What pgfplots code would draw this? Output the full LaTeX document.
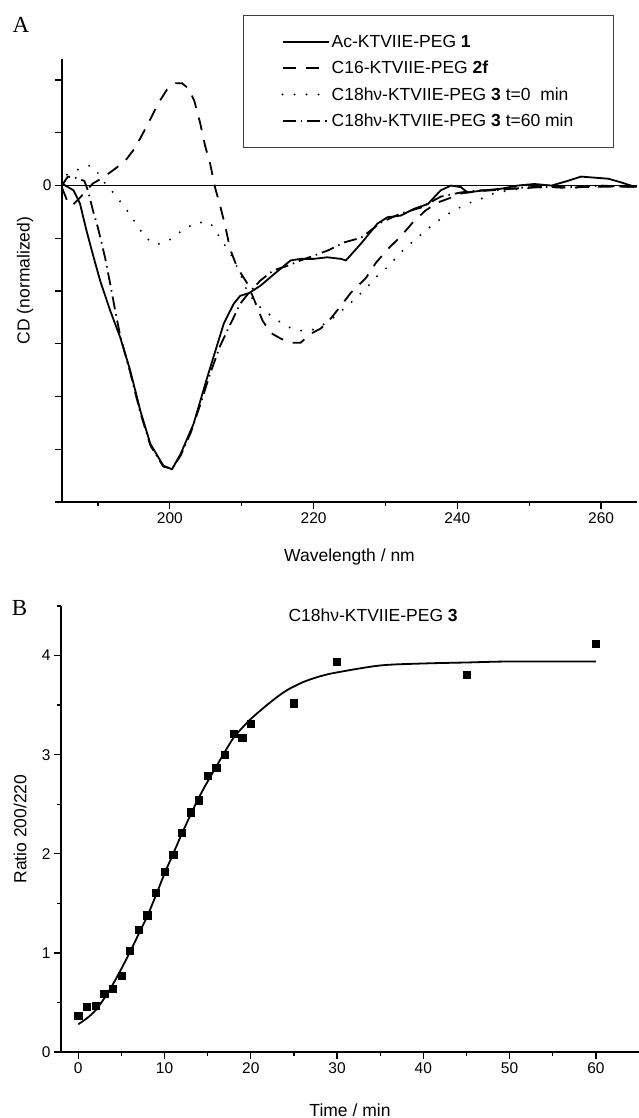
\documentclass[border=0pt]{standalone}
\usepackage{fontspec}
\setmainfont{Liberation Sans}
\newfontfamily\serifA{Liberation Serif}
\usepackage{pgfplots}
\pgfplotsset{compat=1.18}
\newcommand\lblfont{\fontsize{17.5}{20}\selectfont}
\pgfplotsset{
  panel/.style={scale only axis, anchor=south west,
    axis x line=bottom, axis y line=left,
    axis line style={-, line width=1.6pt},
    tick align=outside, major tick length=7pt, minor tick length=4pt,
    every tick/.style={black, line width=1.3pt},
    tick label style={font=\fontsize{15.5}{18}\selectfont},
    /pgf/number format/assume math mode=true},
}
\begin{document}
\begin{tikzpicture}[x=1pt,y=1pt]
\useasboundingbox (0,0) rectangle (639,1118);
\node[font=\serifA\fontsize{23}{26}\selectfont] at (21,1093.5) {A};
\node[font=\serifA\fontsize{23}{26}\selectfont] at (19.5,510) {B};

% panel A: CD spectra
\begin{axis}[panel, at={(62pt,616pt)}, width=575pt, height=443pt,
  xmin=185, xmax=265, ymin=-6, ymax=2.4,
  xtick={200,220,240,260}, minor xtick={190,210,230,250},
  ytick={-6,-5,-4,-3,-2,-1,0,1,2}, yticklabels={{},{},{},{},{},{},0,{},{}},
  xlabel={Wavelength / nm}, ylabel={CD (normalized)},
  every axis x label/.style={at={(rel axis cs:0.5,0)}, yshift=-55pt, anchor=center, font=\lblfont},
  every axis y label/.style={at={(rel axis cs:0,0.5)}, xshift=-37pt, rotate=90, anchor=center, font=\lblfont},
  legend style={at={(rel axis cs:0.3148,1.0993)}, anchor=north west,
    draw=black!75, line width=0.9pt, inner xsep=38pt, inner ysep=18pt,
    font=\lblfont, row sep=8pt},
  legend cell align=left,
  legend image code/.code={\draw[#1] (0pt,0pt) -- (46pt,0pt);},
]
\addplot[black, line width=1.8pt, line join=round] coordinates {
(185.0,0) (185.1,0.03) (186.6,-0.09) (187.5,-0.34) (188.4,-0.85) (189.4,-1.36)
(190.3,-1.80) (191.7,-2.37) (193.1,-2.88) (194.5,-3.51) (195.9,-4.27) (197.3,-4.90)
(199.1,-5.31) (200.3,-5.38) (201.5,-5.09) (203.3,-4.52) (205.2,-3.64) (207.5,-2.62)
(208.9,-2.24) (209.8,-2.09) (211.0,-2.04) (212.6,-1.90) (214.5,-1.68) (216.8,-1.42)
(218.2,-1.39) (220.0,-1.39) (221.9,-1.36) (223.8,-1.39) (224.5,-1.42) (226.6,-1.10)
(228.9,-0.72) (230.3,-0.60) (232.1,-0.57) (234.0,-0.44) (235.9,-0.35) (237.7,-0.09)
(239.1,0) (240.5,-0.03) (241.4,-0.13) (243.8,-0.09) (246.1,-0.06) (248.4,0)
(250.7,0.03) (253.1,0) (255.4,0.09) (257.2,0.17) (259.1,0.15) (261.0,0.13)
(262.8,0.06) (264.6,-0.02)};
\addlegendentry{Ac-KTVIIE-PEG \textbf{1}}
\addplot[black, line width=1.8pt, dash pattern=on 13pt off 10pt] coordinates {
(185.0,-0.04) (185.7,-0.28) (186.4,-0.38) (187.5,-0.23) (189.3,0.04) (190.7,0.15)
(192.4,0.32) (193.8,0.47) (195.2,0.72) (197.0,1.18) (198.4,1.56) (199.6,1.82)
(200.8,1.94) (201.7,1.94) (202.6,1.84) (203.4,1.61) (204.2,1.20) (204.9,0.76)
(205.6,0.42) (206.3,-0.04) (207.0,-0.38) (207.7,-0.76) (208.4,-1.21) (209.4,-1.56)
(210.8,-1.86) (211.9,-2.22) (212.9,-2.56) (214.0,-2.79) (215.4,-2.90) (216.8,-2.98)
(218.2,-2.98) (219.6,-2.81) (221.0,-2.71) (222.4,-2.52) (223.8,-2.28) (225.2,-2.03)
(227.3,-1.75) (228.7,-1.46) (230.5,-1.18) (232.1,-0.97) (233.8,-0.70) (235.6,-0.47)
(237.3,-0.32) (239.1,-0.23) (240.5,-0.15) (242.6,-0.11) (244.7,-0.09) (247.5,-0.06)
(250.3,-0.04) (253.1,-0.02) (255.9,-0.04) (258.6,-0.02) (261.4,-0.02) (264.9,-0.02)};
\addlegendentry{C16-KTVIIE-PEG \textbf{2f}}
\addplot[black, line width=2.2pt, line cap=round, dash pattern=on 0pt off 12pt] coordinates {
(185.0,0) (185.7,0.21) (186.8,0.28) (187.9,0.34) (188.9,0.38) (189.6,0.32)
(190.7,0.09) (192.1,-0.13) (193.8,-0.42) (195.2,-0.70) (196.6,-0.99) (198.2,-1.12)
(200.1,-1.02) (201.9,-0.83) (203.8,-0.70) (205.5,-0.70) (206.3,-0.82) (207.0,-1.01)
(208.4,-1.27) (209.8,-1.67) (210.9,-2.05) (212.6,-2.31) (214.4,-2.50) (216.1,-2.66)
(217.8,-2.75) (219.6,-2.75) (221.3,-2.64) (223.1,-2.47) (225.2,-2.22) (227.3,-1.95)
(228.9,-1.71) (230.5,-1.52) (232.1,-1.27) (234.0,-1.04) (235.9,-0.82) (237.7,-0.63)
(239.5,-0.47) (241.5,-0.34) (243.3,-0.25) (245.1,-0.15) (247.1,-0.09) (248.9,-0.06)
(251.0,-0.04) (253.8,-0.02) (257.2,-0.04) (260.0,-0.02) (264.9,-0.02)};
\addlegendentry{C18hν-KTVIIE-PEG \textbf{3} t=0~~min}
\addplot[black, line width=1.8pt, dash pattern=on 13pt off 5pt on 1.5pt off 5pt] coordinates {
(185.0,0) (185.8,0.17) (186.8,0.15) (188.1,0.09) (188.6,-0.09) (189.3,-0.47)
(190.0,-0.80) (191.0,-1.37) (191.7,-1.86) (192.4,-2.37) (193.1,-2.85) (194.5,-3.55)
(195.9,-4.31) (197.3,-4.93) (199.1,-5.33) (200.3,-5.37) (201.5,-5.12) (202.9,-4.69)
(204.2,-4.17) (205.6,-3.57) (207.0,-3.04) (208.0,-2.75) (209.8,-2.24) (210.9,-2.05)
(212.6,-1.80) (214.4,-1.61) (216.4,-1.52) (218.2,-1.42) (220.0,-1.33) (222.0,-1.23)
(224.2,-1.08) (226.6,-0.99) (229.4,-0.70) (232.1,-0.53) (234.9,-0.42) (237.7,-0.21)
(240.5,-0.13) (243.3,-0.09) (246.1,-0.08) (248.9,-0.04) (251.7,-0.02) (254.5,-0.04)
(257.2,-0.02) (260.0,0) (262.8,-0.02) (264.9,-0.02)};
\addlegendentry{C18hν-KTVIIE-PEG \textbf{3} t=60 min}
\addplot[black, line width=1.1pt, forget plot] coordinates {(185,0) (265,0)};
\end{axis}

% panel B: ratio vs time
\begin{axis}[panel, at={(61pt,66pt)}, width=578pt, height=446pt,
  xmin=-2, xmax=65, ymin=0, ymax=4.5,
  xtick={0,10,20,30,40,50,60}, minor xtick={5,15,25,35,45,55},
  ytick={0,1,2,3,4}, minor ytick={0.5,1.5,2.5,3.5,4.5},
  xlabel={Time / min}, ylabel={Ratio 200/220},
  every axis x label/.style={at={(rel axis cs:0.5,0)}, yshift=-58pt, anchor=center, font=\lblfont},
  every axis y label/.style={at={(rel axis cs:0,0.5)}, xshift=-41pt, rotate=90, anchor=center, font=\lblfont},
]
\addplot[only marks, mark=square*, mark size=3.6pt, black] coordinates {
(0,0.37) (1,0.46) (2,0.47) (3,0.59) (4,0.64) (5,0.77) (6,1.02) (7,1.23) (8,1.38)
(9,1.61) (10,1.82) (11,1.99) (12,2.21) (13,2.42) (14,2.54) (15,2.79) (16,2.87)
(17,3.00) (18,3.21) (19,3.17) (20,3.31) (25,3.52) (30,3.94) (45,3.81) (60,4.12)};
\addplot[black, line width=1.8pt, smooth] coordinates {
(0,0.28) (1,0.34) (2,0.42) (3,0.54) (4,0.68) (5,0.84) (6,1.01) (7,1.19) (8,1.37)
(9,1.58) (10,1.80) (11,2.00) (12,2.20) (13,2.39) (14,2.57) (15,2.73) (16,2.88)
(17,3.03) (18,3.17) (19,3.27) (20,3.36) (22,3.51) (24,3.64) (26,3.73) (28,3.79)
(30,3.83) (35,3.90) (40,3.92) (45,3.93) (50,3.94) (60,3.94)};
\node[font=\lblfont] at (rel axis cs:0.54,0.98) {C18hν-KTVIIE-PEG \textbf{3}};
\end{axis}
\end{tikzpicture}
\end{document}
